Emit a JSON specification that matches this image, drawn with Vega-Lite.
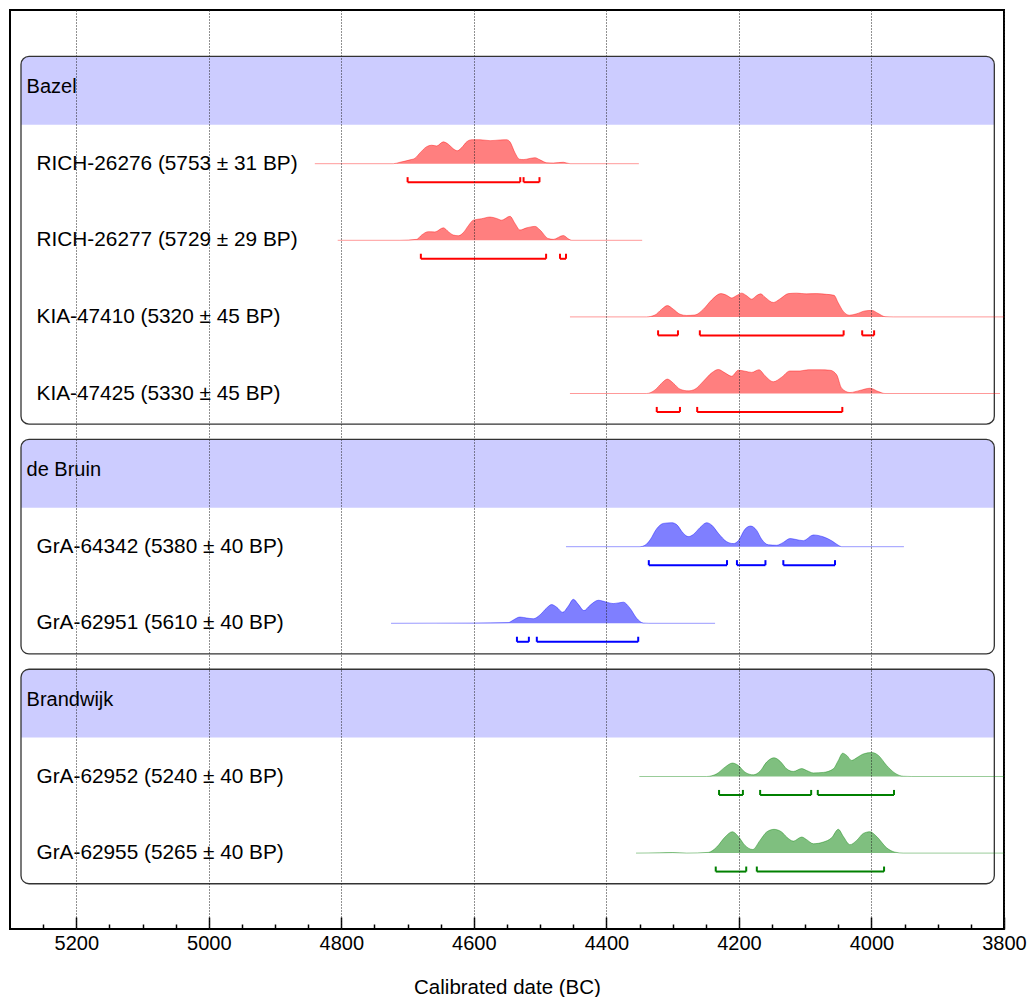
{
  "$schema": "https://vega.github.io/schema/vega-lite/v6.json",
  "width": 994,
  "height": 919,
  "autosize": {"type": "none"},
  "padding": {"left": 10, "top": 10, "right": 32, "bottom": 68},
  "background": "white",
  "config": {
    "view": {"stroke": "black", "strokeWidth": 2},
    "font": "Liberation Sans",
    "text": {"font": "Liberation Sans"}
  },
  "datasets": {
    "groups": [{"group": "Bazel"}, {"group": "de Bruin"}, {"group": "Brandwijk"}],
    "samples": [
      {"sample": "RICH-26276", "label": "RICH-26276 (5753 ± 31 BP)", "group": "Bazel"},
      {"sample": "RICH-26277", "label": "RICH-26277 (5729 ± 29 BP)", "group": "Bazel"},
      {"sample": "KIA-47410", "label": "KIA-47410 (5320 ± 45 BP)", "group": "Bazel"},
      {"sample": "KIA-47425", "label": "KIA-47425 (5330 ± 45 BP)", "group": "Bazel"},
      {"sample": "GrA-64342", "label": "GrA-64342 (5380 ± 40 BP)", "group": "de Bruin"},
      {"sample": "GrA-62951", "label": "GrA-62951 (5610 ± 40 BP)", "group": "de Bruin"},
      {"sample": "GrA-62952", "label": "GrA-62952 (5240 ± 40 BP)", "group": "Brandwijk"},
      {"sample": "GrA-62955", "label": "GrA-62955 (5265 ± 40 BP)", "group": "Brandwijk"}
    ],
    "hpd": [
      {"sample": "RICH-26276", "from": 4700, "to": 4530},
      {"sample": "RICH-26276", "from": 4525, "to": 4501},
      {"sample": "RICH-26277", "from": 4680, "to": 4491},
      {"sample": "RICH-26277", "from": 4470, "to": 4461},
      {"sample": "KIA-47410", "from": 4322, "to": 4292},
      {"sample": "KIA-47410", "from": 4259, "to": 4042},
      {"sample": "KIA-47410", "from": 4014, "to": 3996},
      {"sample": "KIA-47425", "from": 4324, "to": 4289},
      {"sample": "KIA-47425", "from": 4263, "to": 4044},
      {"sample": "GrA-64342", "from": 4336, "to": 4218},
      {"sample": "GrA-64342", "from": 4203, "to": 4160},
      {"sample": "GrA-64342", "from": 4133, "to": 4055},
      {"sample": "GrA-62951", "from": 4535, "to": 4517},
      {"sample": "GrA-62951", "from": 4505, "to": 4352},
      {"sample": "GrA-62952", "from": 4230, "to": 4194},
      {"sample": "GrA-62952", "from": 4168, "to": 4091},
      {"sample": "GrA-62952", "from": 4081, "to": 3966},
      {"sample": "GrA-62955", "from": 4235, "to": 4189},
      {"sample": "GrA-62955", "from": 4173, "to": 3981}
    ],
    "density": [
      {"sample": "RICH-26276", "date": 4840, "density": 0},
      {"sample": "RICH-26276", "date": 4721.5, "density": 0},
      {"sample": "RICH-26276", "date": 4711.5, "density": 0.06},
      {"sample": "RICH-26276", "date": 4696.4, "density": 0.16},
      {"sample": "RICH-26276", "date": 4688.8, "density": 0.23},
      {"sample": "RICH-26276", "date": 4681.3, "density": 0.45},
      {"sample": "RICH-26276", "date": 4671.2, "density": 0.71},
      {"sample": "RICH-26276", "date": 4663.7, "density": 0.77},
      {"sample": "RICH-26276", "date": 4656.1, "density": 0.74},
      {"sample": "RICH-26276", "date": 4646.1, "density": 0.91},
      {"sample": "RICH-26276", "date": 4638.5, "density": 0.81},
      {"sample": "RICH-26276", "date": 4631, "density": 0.62},
      {"sample": "RICH-26276", "date": 4625, "density": 0.54},
      {"sample": "RICH-26276", "date": 4618.4, "density": 0.67},
      {"sample": "RICH-26276", "date": 4610.9, "density": 0.91},
      {"sample": "RICH-26276", "date": 4603.3, "density": 1},
      {"sample": "RICH-26276", "date": 4590.7, "density": 1},
      {"sample": "RICH-26276", "date": 4575.6, "density": 0.96},
      {"sample": "RICH-26276", "date": 4560.5, "density": 0.99},
      {"sample": "RICH-26276", "date": 4550.5, "density": 1},
      {"sample": "RICH-26276", "date": 4545.5, "density": 0.91},
      {"sample": "RICH-26276", "date": 4537.9, "density": 0.45},
      {"sample": "RICH-26276", "date": 4531.4, "density": 0.19},
      {"sample": "RICH-26276", "date": 4525.3, "density": 0.17},
      {"sample": "RICH-26276", "date": 4515.3, "density": 0.22},
      {"sample": "RICH-26276", "date": 4507.7, "density": 0.25},
      {"sample": "RICH-26276", "date": 4500.2, "density": 0.16},
      {"sample": "RICH-26276", "date": 4490.1, "density": 0.04},
      {"sample": "RICH-26276", "date": 4480.1, "density": 0.03},
      {"sample": "RICH-26276", "date": 4465, "density": 0.06},
      {"sample": "RICH-26276", "date": 4455, "density": 0},
      {"sample": "RICH-26276", "date": 4351, "density": 0},

      {"sample": "RICH-26277", "date": 4805.5, "density": 0},
      {"sample": "RICH-26277", "date": 4711.5, "density": 0},
      {"sample": "RICH-26277", "date": 4686.3, "density": 0.04},
      {"sample": "RICH-26277", "date": 4678.8, "density": 0.22},
      {"sample": "RICH-26277", "date": 4668.7, "density": 0.36},
      {"sample": "RICH-26277", "date": 4658.7, "density": 0.35},
      {"sample": "RICH-26277", "date": 4646.1, "density": 0.52},
      {"sample": "RICH-26277", "date": 4638.5, "density": 0.36},
      {"sample": "RICH-26277", "date": 4631, "density": 0.22},
      {"sample": "RICH-26277", "date": 4623.4, "density": 0.19},
      {"sample": "RICH-26277", "date": 4615.9, "density": 0.32},
      {"sample": "RICH-26277", "date": 4608.3, "density": 0.61},
      {"sample": "RICH-26277", "date": 4600.8, "density": 0.84},
      {"sample": "RICH-26277", "date": 4588.2, "density": 0.9},
      {"sample": "RICH-26277", "date": 4575.6, "density": 0.97},
      {"sample": "RICH-26277", "date": 4565.6, "density": 0.91},
      {"sample": "RICH-26277", "date": 4558, "density": 0.84},
      {"sample": "RICH-26277", "date": 4545.5, "density": 1},
      {"sample": "RICH-26277", "date": 4537.9, "density": 0.7},
      {"sample": "RICH-26277", "date": 4530.4, "density": 0.43},
      {"sample": "RICH-26277", "date": 4520.3, "density": 0.52},
      {"sample": "RICH-26277", "date": 4507.7, "density": 0.58},
      {"sample": "RICH-26277", "date": 4500.2, "density": 0.43},
      {"sample": "RICH-26277", "date": 4487.6, "density": 0.07},
      {"sample": "RICH-26277", "date": 4480.1, "density": 0.04},
      {"sample": "RICH-26277", "date": 4465, "density": 0.2},
      {"sample": "RICH-26277", "date": 4457.4, "density": 0.06},
      {"sample": "RICH-26277", "date": 4452.4, "density": 0},
      {"sample": "RICH-26277", "date": 4346, "density": 0},

      {"sample": "KIA-47410", "date": 4455, "density": 0},
      {"sample": "KIA-47410", "date": 4339.2, "density": 0},
      {"sample": "KIA-47410", "date": 4326.6, "density": 0.08},
      {"sample": "KIA-47410", "date": 4316.6, "density": 0.32},
      {"sample": "KIA-47410", "date": 4308, "density": 0.47},
      {"sample": "KIA-47410", "date": 4299, "density": 0.32},
      {"sample": "KIA-47410", "date": 4288.9, "density": 0.11},
      {"sample": "KIA-47410", "date": 4278.9, "density": 0.06},
      {"sample": "KIA-47410", "date": 4266.3, "density": 0.08},
      {"sample": "KIA-47410", "date": 4253.7, "density": 0.32},
      {"sample": "KIA-47410", "date": 4241.1, "density": 0.71},
      {"sample": "KIA-47410", "date": 4227.1, "density": 0.97},
      {"sample": "KIA-47410", "date": 4218.5, "density": 0.9},
      {"sample": "KIA-47410", "date": 4211, "density": 0.79},
      {"sample": "KIA-47410", "date": 4203.4, "density": 0.89},
      {"sample": "KIA-47410", "date": 4195.9, "density": 0.99},
      {"sample": "KIA-47410", "date": 4188.3, "density": 0.88},
      {"sample": "KIA-47410", "date": 4180.8, "density": 0.74},
      {"sample": "KIA-47410", "date": 4173.2, "density": 0.89},
      {"sample": "KIA-47410", "date": 4167.2, "density": 0.96},
      {"sample": "KIA-47410", "date": 4160.7, "density": 0.82},
      {"sample": "KIA-47410", "date": 4148.1, "density": 0.6},
      {"sample": "KIA-47410", "date": 4138, "density": 0.75},
      {"sample": "KIA-47410", "date": 4125.4, "density": 0.97},
      {"sample": "KIA-47410", "date": 4112.9, "density": 0.99},
      {"sample": "KIA-47410", "date": 4097.8, "density": 0.96},
      {"sample": "KIA-47410", "date": 4082.7, "density": 0.97},
      {"sample": "KIA-47410", "date": 4067.6, "density": 0.94},
      {"sample": "KIA-47410", "date": 4056.5, "density": 0.9},
      {"sample": "KIA-47410", "date": 4050, "density": 0.58},
      {"sample": "KIA-47410", "date": 4042.5, "density": 0.23},
      {"sample": "KIA-47410", "date": 4033.4, "density": 0.07},
      {"sample": "KIA-47410", "date": 4022.3, "density": 0.13},
      {"sample": "KIA-47410", "date": 4009.8, "density": 0.25},
      {"sample": "KIA-47410", "date": 3999.7, "density": 0.27},
      {"sample": "KIA-47410", "date": 3989.6, "density": 0.14},
      {"sample": "KIA-47410", "date": 3979.6, "density": 0.01},
      {"sample": "KIA-47410", "date": 3967, "density": 0},
      {"sample": "KIA-47410", "date": 3800, "density": 0},

      {"sample": "KIA-47425", "date": 4455, "density": 0},
      {"sample": "KIA-47425", "date": 4339.2, "density": 0},
      {"sample": "KIA-47425", "date": 4326.6, "density": 0.15},
      {"sample": "KIA-47425", "date": 4316.6, "density": 0.43},
      {"sample": "KIA-47425", "date": 4308, "density": 0.6},
      {"sample": "KIA-47425", "date": 4299, "density": 0.43},
      {"sample": "KIA-47425", "date": 4288.9, "density": 0.18},
      {"sample": "KIA-47425", "date": 4276.4, "density": 0.11},
      {"sample": "KIA-47425", "date": 4266.3, "density": 0.18},
      {"sample": "KIA-47425", "date": 4253.7, "density": 0.51},
      {"sample": "KIA-47425", "date": 4241.1, "density": 0.86},
      {"sample": "KIA-47425", "date": 4231.1, "density": 1},
      {"sample": "KIA-47425", "date": 4221.1, "density": 0.86},
      {"sample": "KIA-47425", "date": 4211, "density": 0.72},
      {"sample": "KIA-47425", "date": 4200.9, "density": 0.97},
      {"sample": "KIA-47425", "date": 4190.9, "density": 0.93},
      {"sample": "KIA-47425", "date": 4180.8, "density": 0.88},
      {"sample": "KIA-47425", "date": 4169.7, "density": 0.99},
      {"sample": "KIA-47425", "date": 4160.7, "density": 0.74},
      {"sample": "KIA-47425", "date": 4148.1, "density": 0.49},
      {"sample": "KIA-47425", "date": 4135.5, "density": 0.68},
      {"sample": "KIA-47425", "date": 4123, "density": 0.94},
      {"sample": "KIA-47425", "date": 4107.8, "density": 0.94},
      {"sample": "KIA-47425", "date": 4095.3, "density": 0.99},
      {"sample": "KIA-47425", "date": 4077.7, "density": 0.99},
      {"sample": "KIA-47425", "date": 4062.5, "density": 0.97},
      {"sample": "KIA-47425", "date": 4052.5, "density": 0.78},
      {"sample": "KIA-47425", "date": 4045, "density": 0.22},
      {"sample": "KIA-47425", "date": 4032.4, "density": 0.04},
      {"sample": "KIA-47425", "date": 4017.3, "density": 0.13},
      {"sample": "KIA-47425", "date": 4002.2, "density": 0.22},
      {"sample": "KIA-47425", "date": 3989.6, "density": 0.08},
      {"sample": "KIA-47425", "date": 3979.6, "density": 0},
      {"sample": "KIA-47425", "date": 3806, "density": 0},

      {"sample": "GrA-64342", "date": 4461, "density": 0},
      {"sample": "GrA-64342", "date": 4349.3, "density": 0},
      {"sample": "GrA-64342", "date": 4341.7, "density": 0.06},
      {"sample": "GrA-64342", "date": 4334.2, "density": 0.28},
      {"sample": "GrA-64342", "date": 4324.1, "density": 0.75},
      {"sample": "GrA-64342", "date": 4314.1, "density": 0.97},
      {"sample": "GrA-64342", "date": 4301.5, "density": 1},
      {"sample": "GrA-64342", "date": 4294, "density": 0.92},
      {"sample": "GrA-64342", "date": 4283.9, "density": 0.56},
      {"sample": "GrA-64342", "date": 4276.4, "density": 0.42},
      {"sample": "GrA-64342", "date": 4268.8, "density": 0.51},
      {"sample": "GrA-64342", "date": 4258.7, "density": 0.8},
      {"sample": "GrA-64342", "date": 4248.7, "density": 1},
      {"sample": "GrA-64342", "date": 4241.1, "density": 0.9},
      {"sample": "GrA-64342", "date": 4231.1, "density": 0.56},
      {"sample": "GrA-64342", "date": 4218.5, "density": 0.21},
      {"sample": "GrA-64342", "date": 4208.4, "density": 0.13},
      {"sample": "GrA-64342", "date": 4200.9, "density": 0.25},
      {"sample": "GrA-64342", "date": 4190.9, "density": 0.73},
      {"sample": "GrA-64342", "date": 4182.3, "density": 0.86},
      {"sample": "GrA-64342", "date": 4173.2, "density": 0.68},
      {"sample": "GrA-64342", "date": 4165.7, "density": 0.31},
      {"sample": "GrA-64342", "date": 4155.6, "density": 0.08},
      {"sample": "GrA-64342", "date": 4143.1, "density": 0.06},
      {"sample": "GrA-64342", "date": 4133, "density": 0.18},
      {"sample": "GrA-64342", "date": 4123, "density": 0.34},
      {"sample": "GrA-64342", "date": 4115.4, "density": 0.31},
      {"sample": "GrA-64342", "date": 4102.8, "density": 0.25},
      {"sample": "GrA-64342", "date": 4087.7, "density": 0.49},
      {"sample": "GrA-64342", "date": 4072.6, "density": 0.41},
      {"sample": "GrA-64342", "date": 4060.1, "density": 0.25},
      {"sample": "GrA-64342", "date": 4050, "density": 0.06},
      {"sample": "GrA-64342", "date": 4045, "density": 0},
      {"sample": "GrA-64342", "date": 3951, "density": 0},

      {"sample": "GrA-62951", "date": 4725, "density": 0},
      {"sample": "GrA-62951", "date": 4600.8, "density": 0.01},
      {"sample": "GrA-62951", "date": 4548, "density": 0.03},
      {"sample": "GrA-62951", "date": 4540.4, "density": 0.14},
      {"sample": "GrA-62951", "date": 4530.4, "density": 0.26},
      {"sample": "GrA-62951", "date": 4520.3, "density": 0.22},
      {"sample": "GrA-62951", "date": 4510.3, "density": 0.19},
      {"sample": "GrA-62951", "date": 4500.2, "density": 0.35},
      {"sample": "GrA-62951", "date": 4490.1, "density": 0.64},
      {"sample": "GrA-62951", "date": 4482.6, "density": 0.78},
      {"sample": "GrA-62951", "date": 4475, "density": 0.67},
      {"sample": "GrA-62951", "date": 4466, "density": 0.46},
      {"sample": "GrA-62951", "date": 4457.4, "density": 0.72},
      {"sample": "GrA-62951", "date": 4449.9, "density": 1},
      {"sample": "GrA-62951", "date": 4442.4, "density": 0.79},
      {"sample": "GrA-62951", "date": 4433.8, "density": 0.53},
      {"sample": "GrA-62951", "date": 4424.7, "density": 0.75},
      {"sample": "GrA-62951", "date": 4412.2, "density": 0.96},
      {"sample": "GrA-62951", "date": 4399.6, "density": 0.88},
      {"sample": "GrA-62951", "date": 4389.5, "density": 0.82},
      {"sample": "GrA-62951", "date": 4374.5, "density": 0.88},
      {"sample": "GrA-62951", "date": 4364.4, "density": 0.63},
      {"sample": "GrA-62951", "date": 4354.3, "density": 0.21},
      {"sample": "GrA-62951", "date": 4344.3, "density": 0.01},
      {"sample": "GrA-62951", "date": 4336, "density": 0},
      {"sample": "GrA-62951", "date": 4236, "density": 0},

      {"sample": "GrA-62952", "date": 4350.3, "density": 0},
      {"sample": "GrA-62952", "date": 4248.7, "density": 0},
      {"sample": "GrA-62952", "date": 4233.6, "density": 0.11},
      {"sample": "GrA-62952", "date": 4221, "density": 0.39},
      {"sample": "GrA-62952", "date": 4209.9, "density": 0.56},
      {"sample": "GrA-62952", "date": 4200.9, "density": 0.46},
      {"sample": "GrA-62952", "date": 4190.8, "density": 0.18},
      {"sample": "GrA-62952", "date": 4178.3, "density": 0.07},
      {"sample": "GrA-62952", "date": 4168.2, "density": 0.22},
      {"sample": "GrA-62952", "date": 4158.2, "density": 0.6},
      {"sample": "GrA-62952", "date": 4147.1, "density": 0.78},
      {"sample": "GrA-62952", "date": 4138, "density": 0.64},
      {"sample": "GrA-62952", "date": 4128, "density": 0.32},
      {"sample": "GrA-62952", "date": 4117.9, "density": 0.21},
      {"sample": "GrA-62952", "date": 4105.3, "density": 0.33},
      {"sample": "GrA-62952", "date": 4097.8, "density": 0.25},
      {"sample": "GrA-62952", "date": 4087.7, "density": 0.15},
      {"sample": "GrA-62952", "date": 4072.6, "density": 0.17},
      {"sample": "GrA-62952", "date": 4057.5, "density": 0.32},
      {"sample": "GrA-62952", "date": 4050, "density": 0.67},
      {"sample": "GrA-62952", "date": 4043.5, "density": 0.97},
      {"sample": "GrA-62952", "date": 4037.4, "density": 0.88},
      {"sample": "GrA-62952", "date": 4029.9, "density": 0.67},
      {"sample": "GrA-62952", "date": 4022.3, "density": 0.78},
      {"sample": "GrA-62952", "date": 4012.3, "density": 0.94},
      {"sample": "GrA-62952", "date": 3999.7, "density": 1},
      {"sample": "GrA-62952", "date": 3989.6, "density": 0.88},
      {"sample": "GrA-62952", "date": 3977.1, "density": 0.46},
      {"sample": "GrA-62952", "date": 3964.5, "density": 0.14},
      {"sample": "GrA-62952", "date": 3951.9, "density": 0.01},
      {"sample": "GrA-62952", "date": 3940, "density": 0},
      {"sample": "GrA-62952", "date": 3800, "density": 0},

      {"sample": "GrA-62955", "date": 4355.3, "density": 0},
      {"sample": "GrA-62955", "date": 4320, "density": 0.01},
      {"sample": "GrA-62955", "date": 4300, "density": 0.02},
      {"sample": "GrA-62955", "date": 4278.9, "density": 0},
      {"sample": "GrA-62955", "date": 4246.2, "density": 0.03},
      {"sample": "GrA-62955", "date": 4233.6, "density": 0.25},
      {"sample": "GrA-62955", "date": 4221, "density": 0.67},
      {"sample": "GrA-62955", "date": 4209.9, "density": 0.89},
      {"sample": "GrA-62955", "date": 4200.9, "density": 0.69},
      {"sample": "GrA-62955", "date": 4190.8, "density": 0.32},
      {"sample": "GrA-62955", "date": 4179.3, "density": 0.15},
      {"sample": "GrA-62955", "date": 4168.2, "density": 0.53},
      {"sample": "GrA-62955", "date": 4158.2, "density": 0.88},
      {"sample": "GrA-62955", "date": 4147.1, "density": 0.99},
      {"sample": "GrA-62955", "date": 4135.5, "density": 0.88},
      {"sample": "GrA-62955", "date": 4128, "density": 0.67},
      {"sample": "GrA-62955", "date": 4117.9, "density": 0.5},
      {"sample": "GrA-62955", "date": 4105.3, "density": 0.67},
      {"sample": "GrA-62955", "date": 4097.8, "density": 0.56},
      {"sample": "GrA-62955", "date": 4087.7, "density": 0.39},
      {"sample": "GrA-62955", "date": 4072.6, "density": 0.46},
      {"sample": "GrA-62955", "date": 4060.1, "density": 0.64},
      {"sample": "GrA-62955", "date": 4050, "density": 0.99},
      {"sample": "GrA-62955", "date": 4042.4, "density": 0.69},
      {"sample": "GrA-62955", "date": 4032.4, "density": 0.35},
      {"sample": "GrA-62955", "date": 4022.3, "density": 0.53},
      {"sample": "GrA-62955", "date": 4012.3, "density": 0.82},
      {"sample": "GrA-62955", "date": 4002.2, "density": 0.89},
      {"sample": "GrA-62955", "date": 3992.1, "density": 0.69},
      {"sample": "GrA-62955", "date": 3977.1, "density": 0.22},
      {"sample": "GrA-62955", "date": 3964.5, "density": 0.04},
      {"sample": "GrA-62955", "date": 3951.9, "density": 0},
      {"sample": "GrA-62955", "date": 3800, "density": 0}
    ]
  },
  "layer": [
    {"data": {"name": "groups"}, "transform": [{"filter": "datum.group === 'Bazel'"}],
     "mark": {"type": "rect", "color": "#ccccff", "cornerRadiusTopLeft": 8, "cornerRadiusTopRight": 8},
     "encoding": {"x": {"datum": 5283.4, "type": "quantitative", "axis": null}, "x2": {"datum": 3814.6},
                  "y": {"datum": -1.4, "type": "quantitative", "axis": null, "scale": {"domain": [-1, 9], "range": [77.1, 843.1]}}, "y2": {"datum": -0.51}}},
    {"data": {"name": "groups"}, "transform": [{"filter": "datum.group === 'Bazel'"}],
     "mark": {"type": "rect", "fillOpacity": 0, "stroke": "#333333", "strokeWidth": 1.3, "cornerRadius": 8},
     "encoding": {"x": {"datum": 5283.4, "type": "quantitative", "axis": null}, "x2": {"datum": 3814.6},
                  "y": {"datum": -1.4, "type": "quantitative", "axis": null, "scale": {"domain": [-1, 9], "range": [77.1, 843.1]}}, "y2": {"datum": 3.4}}},
    {"data": {"name": "groups"}, "transform": [{"filter": "datum.group === 'Bazel'"}],
     "mark": {"type": "text", "align": "left", "baseline": "middle", "fontSize": 20, "color": "black", "font": "Liberation Sans"},
     "encoding": {"x": {"datum": 5275, "type": "quantitative", "axis": null},
                  "y": {"datum": -1, "type": "quantitative", "axis": null, "scale": {"domain": [-1, 9], "range": [77.1, 843.1]}}, "text": {"field": "group"}}},

    {"data": {"name": "groups"}, "transform": [{"filter": "datum.group === 'de Bruin'"}],
     "mark": {"type": "rect", "color": "#ccccff", "cornerRadiusTopLeft": 8, "cornerRadiusTopRight": 8},
     "encoding": {"x": {"datum": 5283.4, "type": "quantitative", "axis": null}, "x2": {"datum": 3814.6},
                  "y": {"datum": 3.6, "type": "quantitative", "axis": null, "scale": {"domain": [-1, 9], "range": [77.1, 843.1]}}, "y2": {"datum": 4.49}}},
    {"data": {"name": "groups"}, "transform": [{"filter": "datum.group === 'de Bruin'"}],
     "mark": {"type": "rect", "fillOpacity": 0, "stroke": "#333333", "strokeWidth": 1.3, "cornerRadius": 8},
     "encoding": {"x": {"datum": 5283.4, "type": "quantitative", "axis": null}, "x2": {"datum": 3814.6},
                  "y": {"datum": 3.6, "type": "quantitative", "axis": null, "scale": {"domain": [-1, 9], "range": [77.1, 843.1]}}, "y2": {"datum": 6.4}}},
    {"data": {"name": "groups"}, "transform": [{"filter": "datum.group === 'de Bruin'"}],
     "mark": {"type": "text", "align": "left", "baseline": "middle", "fontSize": 20, "color": "black", "font": "Liberation Sans"},
     "encoding": {"x": {"datum": 5275, "type": "quantitative", "axis": null},
                  "y": {"datum": 4, "type": "quantitative", "axis": null, "scale": {"domain": [-1, 9], "range": [77.1, 843.1]}}, "text": {"field": "group"}}},

    {"data": {"name": "groups"}, "transform": [{"filter": "datum.group === 'Brandwijk'"}],
     "mark": {"type": "rect", "color": "#ccccff", "cornerRadiusTopLeft": 8, "cornerRadiusTopRight": 8},
     "encoding": {"x": {"datum": 5283.4, "type": "quantitative", "axis": null}, "x2": {"datum": 3814.6},
                  "y": {"datum": 6.6, "type": "quantitative", "axis": null, "scale": {"domain": [-1, 9], "range": [77.1, 843.1]}}, "y2": {"datum": 7.49}}},
    {"data": {"name": "groups"}, "transform": [{"filter": "datum.group === 'Brandwijk'"}],
     "mark": {"type": "rect", "fillOpacity": 0, "stroke": "#333333", "strokeWidth": 1.3, "cornerRadius": 8},
     "encoding": {"x": {"datum": 5283.4, "type": "quantitative", "axis": null}, "x2": {"datum": 3814.6},
                  "y": {"datum": 6.6, "type": "quantitative", "axis": null, "scale": {"domain": [-1, 9], "range": [77.1, 843.1]}}, "y2": {"datum": 9.4}}},
    {"data": {"name": "groups"}, "transform": [{"filter": "datum.group === 'Brandwijk'"}],
     "mark": {"type": "text", "align": "left", "baseline": "middle", "fontSize": 20, "color": "black", "font": "Liberation Sans"},
     "encoding": {"x": {"datum": 5275, "type": "quantitative", "axis": null},
                  "y": {"datum": 7, "type": "quantitative", "axis": null, "scale": {"domain": [-1, 9], "range": [77.1, 843.1]}}, "text": {"field": "group"}}},

    {"data": {"name": "density"}, "transform": [{"filter": "datum.sample === 'RICH-26276'"}],
     "mark": {"type": "area", "color": "#ff0000", "fillOpacity": 0.5, "interpolate": "monotone", "line": {"color": "#ff0000", "strokeWidth": 1, "strokeOpacity": 0.4}},
     "encoding": {
       "x": {"field": "date", "type": "quantitative",
             "scale": {"domain": [5300, 3800], "nice": false, "zero": false},
             "axis": {
               "orient": "bottom", "title": null,
               "values": [5200, 5000, 4800, 4600, 4400, 4200, 4000, 3800],
               "grid": true, "gridColor": "#222222", "gridDash": [1, 2], "gridWidth": 1,
               "ticks": false, "labels": false, "domain": false,
               "zindex": 1
             }},
       "y": {"field": "density", "type": "quantitative", "axis": null, "scale": {"domain": [-31.8875, 6.4042], "nice": false, "zero": false}}}},
    {"data": {"name": "hpd"}, "transform": [{"filter": "datum.sample === 'RICH-26276'"}],
     "mark": {"type": "rule", "color": "#ff0000", "strokeWidth": 2},
     "encoding": {"x": {"field": "from", "type": "quantitative", "axis": null}, "x2": {"field": "to"},
                  "y": {"datum": -0.77, "type": "quantitative", "axis": null, "scale": {"domain": [0, 1], "range": [153.7, 129.7]}}}},
    {"data": {"name": "hpd"}, "transform": [{"filter": "datum.sample === 'RICH-26276'"}, {"fold": ["from", "to"], "as": ["end", "at"]}],
     "mark": {"type": "rule", "color": "#ff0000", "strokeWidth": 2},
     "encoding": {"x": {"field": "at", "type": "quantitative", "axis": null},
                  "y": {"datum": -0.77, "type": "quantitative", "axis": null, "scale": {"domain": [0, 1], "range": [153.7, 129.7]}}, "y2": {"datum": -0.56}}},
    {"data": {"name": "samples"}, "transform": [{"filter": "datum.sample === 'RICH-26276'"}],
     "mark": {"type": "text", "align": "left", "baseline": "middle", "fontSize": 20.8, "color": "black", "font": "Liberation Sans"},
     "encoding": {"x": {"datum": 5260, "type": "quantitative", "axis": null},
                  "y": {"datum": 0, "type": "quantitative", "axis": null, "scale": {"domain": [0, 1], "range": [153.7, 129.7]}}, "text": {"field": "label"}}},

    {"data": {"name": "density"}, "transform": [{"filter": "datum.sample === 'RICH-26277'"}],
     "mark": {"type": "area", "color": "#ff0000", "fillOpacity": 0.5, "interpolate": "monotone", "line": {"color": "#ff0000", "strokeWidth": 1, "strokeOpacity": 0.4}},
     "encoding": {"x": {"field": "date", "type": "quantitative", "title": "Calibrated date (BC)",
                        "axis": {
                          "orient": "bottom",
                          "values": [5200, 5000, 4800, 4600, 4400, 4200, 4000, 3800],
                          "format": "d",
                          "offset": -12, "tickSize": 12, "tickWidth": 1.5, "tickColor": "black",
                          "grid": false, "domain": false,
                          "labelFont": "Liberation Sans", "labelFontSize": 20, "labelColor": "black", "labelPadding": 4,
                          "labelFlush": false, "labelOverlap": false,
                          "titleFont": "Liberation Sans", "titleFontSize": 20.5, "titleFontWeight": "normal", "titleColor": "black", "titlePadding": 24
                        }},
                  "y": {"field": "density", "type": "quantitative", "axis": null, "scale": {"domain": [0, 1], "range": [230.3, 206.3]}}}},
    {"data": {"name": "hpd"}, "transform": [{"filter": "datum.sample === 'RICH-26277'"}],
     "mark": {"type": "rule", "color": "#ff0000", "strokeWidth": 2},
     "encoding": {"x": {"field": "from", "type": "quantitative", "axis": null}, "x2": {"field": "to"},
                  "y": {"datum": -0.77, "type": "quantitative", "axis": null, "scale": {"domain": [0, 1], "range": [230.3, 206.3]}}}},
    {"data": {"name": "hpd"}, "transform": [{"filter": "datum.sample === 'RICH-26277'"}, {"fold": ["from", "to"], "as": ["end", "at"]}],
     "mark": {"type": "rule", "color": "#ff0000", "strokeWidth": 2},
     "encoding": {"x": {"field": "at", "type": "quantitative", "axis": null},
                  "y": {"datum": -0.77, "type": "quantitative", "axis": null, "scale": {"domain": [0, 1], "range": [230.3, 206.3]}}, "y2": {"datum": -0.56}}},
    {"data": {"name": "samples"}, "transform": [{"filter": "datum.sample === 'RICH-26277'"}],
     "mark": {"type": "text", "align": "left", "baseline": "middle", "fontSize": 20.8, "color": "black", "font": "Liberation Sans"},
     "encoding": {"x": {"datum": 5260, "type": "quantitative", "axis": null},
                  "y": {"datum": 0, "type": "quantitative", "axis": null, "scale": {"domain": [0, 1], "range": [230.3, 206.3]}}, "text": {"field": "label"}}},

    {"data": {"name": "density"}, "transform": [{"filter": "datum.sample === 'KIA-47410'"}],
     "mark": {"type": "area", "color": "#ff0000", "fillOpacity": 0.5, "interpolate": "monotone", "line": {"color": "#ff0000", "strokeWidth": 1, "strokeOpacity": 0.4}},
     "encoding": {"x": {"field": "date", "type": "quantitative",
                        "axis": {
                          "orient": "bottom", "title": null,
                          "values": [5250, 5150, 5100, 5050, 4950, 4900, 4850, 4750, 4700, 4650, 4550, 4500, 4450, 4350, 4300, 4250, 4150, 4100, 4050, 3950, 3900, 3850],
                          "offset": -5, "tickSize": 5, "tickWidth": 1.5, "tickColor": "black",
                          "grid": false, "domain": false, "labels": false
                        }},
                  "y": {"field": "density", "type": "quantitative", "axis": null, "scale": {"domain": [0, 1], "range": [306.9, 282.9]}}}},
    {"data": {"name": "hpd"}, "transform": [{"filter": "datum.sample === 'KIA-47410'"}],
     "mark": {"type": "rule", "color": "#ff0000", "strokeWidth": 2},
     "encoding": {"x": {"field": "from", "type": "quantitative", "axis": null}, "x2": {"field": "to"},
                  "y": {"datum": -0.77, "type": "quantitative", "axis": null, "scale": {"domain": [0, 1], "range": [306.9, 282.9]}}}},
    {"data": {"name": "hpd"}, "transform": [{"filter": "datum.sample === 'KIA-47410'"}, {"fold": ["from", "to"], "as": ["end", "at"]}],
     "mark": {"type": "rule", "color": "#ff0000", "strokeWidth": 2},
     "encoding": {"x": {"field": "at", "type": "quantitative", "axis": null},
                  "y": {"datum": -0.77, "type": "quantitative", "axis": null, "scale": {"domain": [0, 1], "range": [306.9, 282.9]}}, "y2": {"datum": -0.56}}},
    {"data": {"name": "samples"}, "transform": [{"filter": "datum.sample === 'KIA-47410'"}],
     "mark": {"type": "text", "align": "left", "baseline": "middle", "fontSize": 20.8, "color": "black", "font": "Liberation Sans"},
     "encoding": {"x": {"datum": 5260, "type": "quantitative", "axis": null},
                  "y": {"datum": 0, "type": "quantitative", "axis": null, "scale": {"domain": [0, 1], "range": [306.9, 282.9]}}, "text": {"field": "label"}}},

    {"data": {"name": "density"}, "transform": [{"filter": "datum.sample === 'KIA-47425'"}],
     "mark": {"type": "area", "color": "#ff0000", "fillOpacity": 0.5, "interpolate": "monotone", "line": {"color": "#ff0000", "strokeWidth": 1, "strokeOpacity": 0.4}},
     "encoding": {"x": {"field": "date", "type": "quantitative", "axis": null},
                  "y": {"field": "density", "type": "quantitative", "axis": null, "scale": {"domain": [0, 1], "range": [383.5, 359.5]}}}},
    {"data": {"name": "hpd"}, "transform": [{"filter": "datum.sample === 'KIA-47425'"}],
     "mark": {"type": "rule", "color": "#ff0000", "strokeWidth": 2},
     "encoding": {"x": {"field": "from", "type": "quantitative", "axis": null}, "x2": {"field": "to"},
                  "y": {"datum": -0.77, "type": "quantitative", "axis": null, "scale": {"domain": [0, 1], "range": [383.5, 359.5]}}}},
    {"data": {"name": "hpd"}, "transform": [{"filter": "datum.sample === 'KIA-47425'"}, {"fold": ["from", "to"], "as": ["end", "at"]}],
     "mark": {"type": "rule", "color": "#ff0000", "strokeWidth": 2},
     "encoding": {"x": {"field": "at", "type": "quantitative", "axis": null},
                  "y": {"datum": -0.77, "type": "quantitative", "axis": null, "scale": {"domain": [0, 1], "range": [383.5, 359.5]}}, "y2": {"datum": -0.56}}},
    {"data": {"name": "samples"}, "transform": [{"filter": "datum.sample === 'KIA-47425'"}],
     "mark": {"type": "text", "align": "left", "baseline": "middle", "fontSize": 20.8, "color": "black", "font": "Liberation Sans"},
     "encoding": {"x": {"datum": 5260, "type": "quantitative", "axis": null},
                  "y": {"datum": 0, "type": "quantitative", "axis": null, "scale": {"domain": [0, 1], "range": [383.5, 359.5]}}, "text": {"field": "label"}}},

    {"data": {"name": "density"}, "transform": [{"filter": "datum.sample === 'GrA-64342'"}],
     "mark": {"type": "area", "color": "#0000ff", "fillOpacity": 0.5, "interpolate": "monotone", "line": {"color": "#0000ff", "strokeWidth": 1, "strokeOpacity": 0.4}},
     "encoding": {"x": {"field": "date", "type": "quantitative", "axis": null},
                  "y": {"field": "density", "type": "quantitative", "axis": null, "scale": {"domain": [0, 1], "range": [536.7, 512.7]}}}},
    {"data": {"name": "hpd"}, "transform": [{"filter": "datum.sample === 'GrA-64342'"}],
     "mark": {"type": "rule", "color": "#0000ff", "strokeWidth": 2},
     "encoding": {"x": {"field": "from", "type": "quantitative", "axis": null}, "x2": {"field": "to"},
                  "y": {"datum": -0.77, "type": "quantitative", "axis": null, "scale": {"domain": [0, 1], "range": [536.7, 512.7]}}}},
    {"data": {"name": "hpd"}, "transform": [{"filter": "datum.sample === 'GrA-64342'"}, {"fold": ["from", "to"], "as": ["end", "at"]}],
     "mark": {"type": "rule", "color": "#0000ff", "strokeWidth": 2},
     "encoding": {"x": {"field": "at", "type": "quantitative", "axis": null},
                  "y": {"datum": -0.77, "type": "quantitative", "axis": null, "scale": {"domain": [0, 1], "range": [536.7, 512.7]}}, "y2": {"datum": -0.56}}},
    {"data": {"name": "samples"}, "transform": [{"filter": "datum.sample === 'GrA-64342'"}],
     "mark": {"type": "text", "align": "left", "baseline": "middle", "fontSize": 20.8, "color": "black", "font": "Liberation Sans"},
     "encoding": {"x": {"datum": 5260, "type": "quantitative", "axis": null},
                  "y": {"datum": 0, "type": "quantitative", "axis": null, "scale": {"domain": [0, 1], "range": [536.7, 512.7]}}, "text": {"field": "label"}}},

    {"data": {"name": "density"}, "transform": [{"filter": "datum.sample === 'GrA-62951'"}],
     "mark": {"type": "area", "color": "#0000ff", "fillOpacity": 0.5, "interpolate": "monotone", "line": {"color": "#0000ff", "strokeWidth": 1, "strokeOpacity": 0.4}},
     "encoding": {"x": {"field": "date", "type": "quantitative", "axis": null},
                  "y": {"field": "density", "type": "quantitative", "axis": null, "scale": {"domain": [0, 1], "range": [613.3, 589.3]}}}},
    {"data": {"name": "hpd"}, "transform": [{"filter": "datum.sample === 'GrA-62951'"}],
     "mark": {"type": "rule", "color": "#0000ff", "strokeWidth": 2},
     "encoding": {"x": {"field": "from", "type": "quantitative", "axis": null}, "x2": {"field": "to"},
                  "y": {"datum": -0.77, "type": "quantitative", "axis": null, "scale": {"domain": [0, 1], "range": [613.3, 589.3]}}}},
    {"data": {"name": "hpd"}, "transform": [{"filter": "datum.sample === 'GrA-62951'"}, {"fold": ["from", "to"], "as": ["end", "at"]}],
     "mark": {"type": "rule", "color": "#0000ff", "strokeWidth": 2},
     "encoding": {"x": {"field": "at", "type": "quantitative", "axis": null},
                  "y": {"datum": -0.77, "type": "quantitative", "axis": null, "scale": {"domain": [0, 1], "range": [613.3, 589.3]}}, "y2": {"datum": -0.56}}},
    {"data": {"name": "samples"}, "transform": [{"filter": "datum.sample === 'GrA-62951'"}],
     "mark": {"type": "text", "align": "left", "baseline": "middle", "fontSize": 20.8, "color": "black", "font": "Liberation Sans"},
     "encoding": {"x": {"datum": 5260, "type": "quantitative", "axis": null},
                  "y": {"datum": 0, "type": "quantitative", "axis": null, "scale": {"domain": [0, 1], "range": [613.3, 589.3]}}, "text": {"field": "label"}}},

    {"data": {"name": "density"}, "transform": [{"filter": "datum.sample === 'GrA-62952'"}],
     "mark": {"type": "area", "color": "#008000", "fillOpacity": 0.5, "interpolate": "monotone", "line": {"color": "#008000", "strokeWidth": 1, "strokeOpacity": 0.4}},
     "encoding": {"x": {"field": "date", "type": "quantitative", "axis": null},
                  "y": {"field": "density", "type": "quantitative", "axis": null, "scale": {"domain": [0, 1], "range": [766.5, 742.5]}}}},
    {"data": {"name": "hpd"}, "transform": [{"filter": "datum.sample === 'GrA-62952'"}],
     "mark": {"type": "rule", "color": "#008000", "strokeWidth": 2},
     "encoding": {"x": {"field": "from", "type": "quantitative", "axis": null}, "x2": {"field": "to"},
                  "y": {"datum": -0.77, "type": "quantitative", "axis": null, "scale": {"domain": [0, 1], "range": [766.5, 742.5]}}}},
    {"data": {"name": "hpd"}, "transform": [{"filter": "datum.sample === 'GrA-62952'"}, {"fold": ["from", "to"], "as": ["end", "at"]}],
     "mark": {"type": "rule", "color": "#008000", "strokeWidth": 2},
     "encoding": {"x": {"field": "at", "type": "quantitative", "axis": null},
                  "y": {"datum": -0.77, "type": "quantitative", "axis": null, "scale": {"domain": [0, 1], "range": [766.5, 742.5]}}, "y2": {"datum": -0.56}}},
    {"data": {"name": "samples"}, "transform": [{"filter": "datum.sample === 'GrA-62952'"}],
     "mark": {"type": "text", "align": "left", "baseline": "middle", "fontSize": 20.8, "color": "black", "font": "Liberation Sans"},
     "encoding": {"x": {"datum": 5260, "type": "quantitative", "axis": null},
                  "y": {"datum": 0, "type": "quantitative", "axis": null, "scale": {"domain": [0, 1], "range": [766.5, 742.5]}}, "text": {"field": "label"}}},

    {"data": {"name": "density"}, "transform": [{"filter": "datum.sample === 'GrA-62955'"}],
     "mark": {"type": "area", "color": "#008000", "fillOpacity": 0.5, "interpolate": "monotone", "line": {"color": "#008000", "strokeWidth": 1, "strokeOpacity": 0.4}},
     "encoding": {"x": {"field": "date", "type": "quantitative", "axis": null},
                  "y": {"field": "density", "type": "quantitative", "axis": null, "scale": {"domain": [0, 1], "range": [843.1, 819.1]}}}},
    {"data": {"name": "hpd"}, "transform": [{"filter": "datum.sample === 'GrA-62955'"}],
     "mark": {"type": "rule", "color": "#008000", "strokeWidth": 2},
     "encoding": {"x": {"field": "from", "type": "quantitative", "axis": null}, "x2": {"field": "to"},
                  "y": {"datum": -0.77, "type": "quantitative", "axis": null, "scale": {"domain": [0, 1], "range": [843.1, 819.1]}}}},
    {"data": {"name": "hpd"}, "transform": [{"filter": "datum.sample === 'GrA-62955'"}, {"fold": ["from", "to"], "as": ["end", "at"]}],
     "mark": {"type": "rule", "color": "#008000", "strokeWidth": 2},
     "encoding": {"x": {"field": "at", "type": "quantitative", "axis": null},
                  "y": {"datum": -0.77, "type": "quantitative", "axis": null, "scale": {"domain": [0, 1], "range": [843.1, 819.1]}}, "y2": {"datum": -0.56}}},
    {"data": {"name": "samples"}, "transform": [{"filter": "datum.sample === 'GrA-62955'"}],
     "mark": {"type": "text", "align": "left", "baseline": "middle", "fontSize": 20.8, "color": "black", "font": "Liberation Sans"},
     "encoding": {"x": {"datum": 5260, "type": "quantitative", "axis": null},
                  "y": {"datum": 0, "type": "quantitative", "axis": null, "scale": {"domain": [0, 1], "range": [843.1, 819.1]}}, "text": {"field": "label"}}}
  ],
  "resolve": {"scale": {"y": "independent"}, "axis": {"x": "independent"}}
}
